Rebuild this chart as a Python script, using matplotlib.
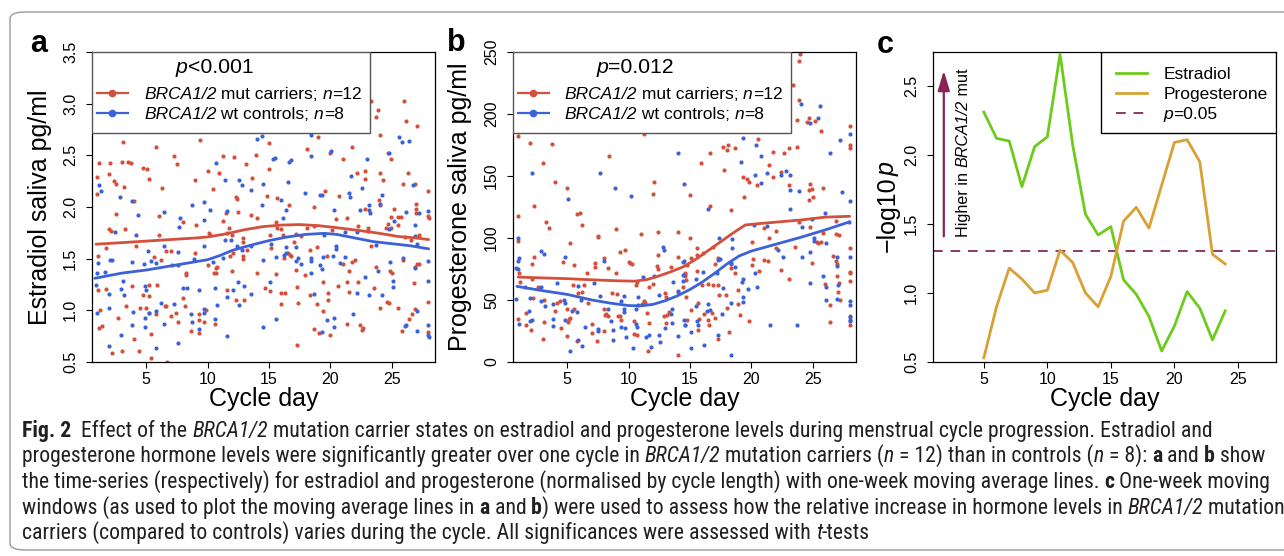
import numpy as np
import matplotlib
matplotlib.use('Agg')
import matplotlib.pyplot as plt
from matplotlib import font_manager as fm
from matplotlib.patches import Rectangle, FancyBboxPatch

W, H = 1284, 556
PANEL_FONT = ['Liberation Sans', 'DejaVu Sans']
plt.rcParams['font.family'] = PANEL_FONT

RED = '#d4503c'
BLUE = '#3b62d8'
GREEN = '#6ccb1b'
ORANGE = '#d9a033'
PLUM = '#8e3a66'

# --- panel a: estradiol (day, pg/ml) ---
a_mut = [
    (3.09, 2.63), (9.34, 2.65), (5.81, 2.58), (7.30, 2.49), (7.49, 2.42), (1.14, 2.43), (2.06, 2.43),
    (3.04, 2.44), (3.50, 2.44), (3.77, 2.43), (4.72, 2.38), (5.08, 2.37), (5.21, 2.27), (0.98, 2.29),
    (1.93, 2.32), (2.39, 2.25), (2.55, 2.22), (3.17, 2.19), (0.98, 2.13), (6.27, 2.18), (9.01, 2.26),
    (10.01, 2.35), (11.23, 2.49), (12.16, 2.48), (13.13, 2.42), (13.92, 2.50), (10.96, 2.33), (10.42, 2.17),
    (12.35, 2.10), (12.40, 2.08), (13.60, 2.28), (3.99, 2.06),
    (23.34, 3.03), (25.99, 3.03), (23.85, 2.94), (23.69, 2.87), (26.13, 2.83), (27.05, 2.78), (24.02, 2.70),
    (19.00, 2.68), (15.01, 2.62), (18.13, 2.56), (20.00, 2.52), (21.77, 2.58), (21.03, 2.46), (24.97, 2.46),
    (24.69, 2.52), (14.99, 2.37), (22.17, 2.33), (22.82, 2.35), (22.85, 2.27), (24.02, 2.33), (24.26, 2.26),
    (26.32, 2.33), (25.91, 2.22), (26.92, 2.22), (27.95, 2.15), (14.85, 2.11), (15.66, 2.09), (16.61, 2.02),
    (19.54, 2.15), (20.73, 2.11), (18.67, 2.00), (22.79, 1.98), (23.93, 2.07), (24.02, 2.02), (25.19, 1.98),
    (26.95, 2.03), (27.00, 1.98),
    (2.50, 1.93), (6.03, 1.91), (8.03, 1.85), (9.06, 1.83), (11.50, 1.94), (12.45, 1.95), (13.51, 1.92),
    (14.03, 1.89), (11.23, 1.86), (11.72, 1.80), (11.59, 1.75), (12.00, 1.73), (10.09, 1.75), (10.20, 1.73),
    (1.95, 1.79), (2.14, 1.77), (3.26, 1.79), (6.03, 1.73), (1.68, 1.60), (4.18, 1.62), (6.62, 1.57),
    (7.03, 1.57), (9.01, 1.55), (12.86, 1.66), (12.92, 1.70), (13.19, 1.58), (11.86, 1.53), (12.10, 1.55),
    (12.92, 1.53), (12.92, 1.50), (1.06, 1.53), (5.62, 1.52), (6.22, 1.49), (10.01, 1.44), (10.69, 1.41),
    (10.77, 1.42), (10.50, 1.36), (10.69, 1.36), (8.25, 1.36), (8.25, 1.34), (12.00, 1.38), (14.00, 1.36),
    (1.06, 1.20), (1.68, 1.21), (3.83, 1.24), (5.21, 1.25), (5.89, 1.25), (4.72, 1.15), (5.21, 1.14),
    (3.36, 1.04), (4.50, 1.02), (4.94, 1.02), (5.21, 0.97), (5.81, 0.96), (6.62, 1.04), (6.51, 1.04),
    (7.03, 0.95), (7.44, 0.97), (7.57, 0.89), (8.03, 1.12), (8.19, 1.04), (1.20, 1.00), (2.71, 0.93),
    (9.33, 0.96), (9.33, 0.91), (9.74, 0.89), (9.87, 1.00), (10.64, 0.87), (8.65, 0.80), (9.33, 0.78),
    (11.56, 1.20), (12.32, 1.10), (13.00, 1.10), (1.36, 0.85), (1.14, 0.83), (4.04, 0.72), (5.37, 0.77),
    (2.20, 0.59), (3.04, 0.61), (4.37, 0.61), (5.40, 0.54), (6.70, 0.50),
    (27.95, 1.91), (28.00, 1.89), (27.00, 1.94), (24.97, 1.90), (25.51, 1.90), (25.73, 1.90), (24.69, 1.84),
    (24.91, 1.80), (25.51, 1.83), (24.50, 1.80), (15.55, 1.85), (15.69, 1.80), (16.01, 1.79), (18.13, 1.80),
    (18.67, 1.82), (20.43, 1.88), (21.38, 1.89), (22.25, 1.82), (23.07, 1.80), (23.07, 1.77), (20.13, 1.78),
    (15.09, 1.73), (17.20, 1.74), (17.58, 1.72), (16.15, 1.73), (17.01, 1.66), (15.14, 1.60), (18.32, 1.58),
    (18.94, 1.61), (16.56, 1.55), (16.83, 1.53), (16.69, 1.54), (16.23, 1.51), (19.76, 1.53), (21.74, 1.47),
    (21.97, 1.49), (21.03, 1.45), (23.34, 1.62), (23.69, 1.42), (24.88, 1.38), (25.00, 1.36), (25.92, 1.49),
    (27.05, 1.45), (27.19, 1.45), (26.87, 1.42), (26.10, 1.71), (26.57, 1.68), (27.20, 1.73), (17.20, 1.39),
    (17.90, 1.34), (15.55, 1.35), (21.52, 1.38), (19.41, 1.27), (20.62, 1.24), (21.38, 1.27), (22.25, 1.27),
    (23.53, 1.22), (21.52, 1.18), (19.78, 1.17), (18.32, 1.15), (14.71, 1.22), (15.06, 1.19), (16.01, 1.17),
    (16.34, 1.17), (17.25, 1.23), (19.84, 1.10), (17.39, 1.07), (16.01, 1.06), (18.94, 1.06), (19.41, 0.99),
    (24.64, 1.08), (24.77, 1.07), (24.02, 1.02), (25.51, 1.02), (26.81, 1.26), (27.95, 1.08), (26.65, 0.96),
    (26.38, 0.92), (25.84, 0.80), (27.95, 0.79), (21.35, 0.87), (22.41, 0.86), (22.65, 0.83), (22.60, 0.81),
    (18.67, 0.82), (19.05, 0.78), (20.00, 0.76), (17.25, 0.66), (26.92, 1.01),
]
a_wt = [
    (1.11, 2.21), (1.33, 2.15), (2.90, 2.10), (3.85, 2.06), (10.69, 2.43), (11.45, 2.26), (12.59, 2.26),
    (12.78, 2.21), (13.54, 2.16), (14.03, 2.66), (14.46, 2.69), (14.49, 2.22), (9.74, 2.05), (8.74, 2.02),
    (18.40, 2.70), (20.04, 2.54), (18.40, 2.49), (15.33, 2.46), (15.47, 2.47), (16.61, 2.44), (16.83, 2.45),
    (22.96, 2.46), (25.59, 2.68), (25.84, 2.63), (26.41, 2.64), (24.77, 2.52), (21.66, 2.30), (16.58, 2.24),
    (17.89, 2.14), (19.16, 2.12), (19.30, 2.12), (21.52, 2.14), (21.62, 2.10), (22.60, 2.18), (24.18, 2.12),
    (24.08, 2.03), (23.16, 2.02), (26.76, 2.21), (16.01, 2.07), (14.46, 2.02),
    (4.31, 1.92), (6.41, 1.95), (7.71, 1.89), (7.65, 1.81), (9.68, 1.87), (10.20, 1.97), (11.59, 1.96),
    (2.44, 1.76), (4.18, 1.73), (6.48, 1.62), (5.13, 1.57), (7.57, 1.56), (9.69, 1.62), (11.45, 1.68),
    (11.92, 1.68), (12.40, 1.62), (12.78, 1.58), (13.57, 1.62), (5.40, 1.48), (5.81, 1.46), (4.80, 1.45),
    (3.85, 1.47), (2.06, 1.49), (2.23, 1.49), (1.06, 1.46), (0.98, 1.36), (1.66, 1.37), (0.87, 1.25),
    (3.09, 1.28), (3.20, 1.15), (2.96, 1.21), (1.95, 1.16), (4.86, 1.24), (5.00, 1.20), (7.11, 1.44),
    (7.57, 1.44), (8.85, 1.50), (10.42, 1.47), (11.23, 1.51), (8.00, 1.22), (8.30, 1.22), (9.33, 1.20),
    (10.64, 1.22), (12.05, 1.20), (11.59, 1.13), (12.54, 1.05), (12.95, 1.24), (13.54, 1.16), (12.46, 1.27),
    (10.80, 1.05), (2.00, 1.02), (0.98, 0.97), (3.90, 0.98), (4.86, 0.93), (5.21, 0.97), (5.81, 0.99),
    (6.22, 1.07), (7.30, 1.06), (6.48, 0.87), (3.85, 0.86), (4.86, 0.84), (2.93, 0.76), (8.65, 0.96),
    (8.71, 0.89), (9.74, 0.97), (9.71, 1.01), (9.33, 0.82), (10.64, 0.92), (7.57, 0.68), (5.81, 0.64),
    (1.95, 0.65), (11.59, 0.75),
    (20.32, 1.97), (22.44, 1.97), (23.16, 1.97), (23.21, 1.94), (16.42, 1.97), (26.13, 1.95), (27.22, 1.94),
    (27.95, 1.96), (16.15, 1.89), (25.16, 1.86), (24.79, 1.79), (26.92, 1.83), (19.46, 1.73), (21.22, 1.76),
    (22.17, 1.76), (15.14, 1.64), (16.42, 1.61), (17.20, 1.61), (16.42, 1.55), (16.23, 1.54), (20.49, 1.62),
    (20.43, 1.59), (23.69, 1.63), (26.89, 1.72), (27.05, 1.64), (15.60, 1.52), (14.52, 1.49), (17.39, 1.51),
    (17.20, 1.48), (17.64, 1.45), (18.40, 1.51), (18.40, 1.48), (19.41, 1.52), (20.24, 1.53), (21.21, 1.52),
    (20.76, 1.46), (19.13, 1.44), (19.32, 1.40), (18.40, 1.36), (24.88, 1.47), (25.92, 1.51), (26.92, 1.41),
    (27.95, 1.48), (22.85, 1.32), (23.85, 1.38), (25.11, 1.28), (25.11, 1.23), (15.11, 1.27), (22.20, 1.17),
    (23.16, 1.15), (24.18, 1.15), (18.67, 1.16), (27.95, 1.28), (21.80, 0.96), (20.32, 0.93), (19.73, 0.91),
    (20.32, 0.84), (15.60, 0.92), (14.52, 0.84), (19.30, 0.79), (26.13, 0.86), (26.10, 0.85), (27.05, 0.80),
    (27.05, 0.99), (27.95, 0.86), (27.95, 0.76), (28.00, 0.74),
]
# one-week moving averages
a_mut_avg = [(0.9, 1.64), (3, 1.655), (5, 1.67), (7, 1.685), (9, 1.70), (10, 1.71), (11.5, 1.74), (13, 1.78),
             (14.5, 1.81), (16, 1.825), (17.5, 1.83), (19, 1.82), (20.5, 1.80), (22.5, 1.77), (24, 1.745),
             (25.5, 1.715), (27, 1.70), (28, 1.685)]
a_wt_avg = [(0.8, 1.31), (3, 1.36), (5, 1.39), (7, 1.43), (8.5, 1.46), (10, 1.49), (11, 1.53), (12, 1.58),
            (13.5, 1.63), (15, 1.675), (16.5, 1.71), (18, 1.735), (19.5, 1.745), (20.5, 1.735), (22, 1.70),
            (23.5, 1.665), (25, 1.645), (26.5, 1.625), (28, 1.595)]

# --- panel b: progesterone (day, pg/ml) ---
b_mut = [
    (0.95, 182.4), (1.98, 176.8), (3.72, 175.5), (2.99, 160.7), (8.37, 166.1), (11.23, 183.5), (4.00, 145.4),
    (4.97, 140.0), (12.10, 145.4), (12.02, 135.2), (2.31, 126.1),
    (23.99, 248.1), (23.86, 242.8), (23.37, 223.7), (23.86, 211.1), (23.70, 195.0), (24.52, 193.7),
    (24.73, 196.9), (25.19, 194.2), (25.68, 186.4), (28.05, 190.4), (28.05, 174.9), (28.05, 172.7),
    (20.51, 180.2), (18.11, 175.4), (17.65, 173.0), (17.98, 170.8), (18.66, 172.7), (16.62, 168.2),
    (15.89, 160.1), (21.79, 169.5), (22.69, 168.2), (23.10, 172.7), (23.70, 173.5), (21.44, 158.8),
    (17.76, 154.5), (22.40, 153.2), (21.75, 149.1), (19.34, 149.1), (19.61, 147.8), (19.83, 144.8),
    (20.48, 142.9), (23.05, 142.4), (24.78, 143.2), (24.92, 139.7), (24.73, 138.4), (25.87, 140.2),
    (25.00, 133.0), (24.67, 130.3), (19.40, 133.0), (14.99, 134.3), (16.62, 125.7), (18.33, 122.8),
    (1.00, 118.0), (5.79, 119.1), (6.03, 120.4), (3.23, 113.2), (3.50, 107.8), (6.20, 110.5), (9.00, 107.3),
    (7.48, 101.9), (7.53, 101.1), (1.00, 97.6), (5.19, 95.7), (9.33, 89.0), (9.71, 90.4), (11.01, 103.5),
    (12.37, 105.1), (14.01, 105.1), (12.43, 86.3), (14.01, 85.0), (2.25, 85.0), (2.09, 78.8), (5.57, 78.3),
    (4.65, 80.4), (7.26, 79.6), (7.26, 76.9), (7.97, 83.6), (8.29, 75.6), (10.06, 80.4), (10.14, 79.6),
    (10.25, 78.8), (9.00, 71.6), (12.32, 77.8), (12.43, 74.8), (13.46, 76.4), (6.61, 71.6), (1.08, 71.6),
    (1.16, 64.9), (2.09, 67.0), (2.63, 60.8), (5.44, 61.7), (6.39, 61.7), (6.17, 56.8), (5.84, 55.5),
    (8.62, 56.0), (9.03, 54.7), (10.61, 61.7), (10.69, 64.3), (11.64, 60.8), (11.97, 62.6), (12.97, 55.5),
    (13.06, 52.8), (14.55, 70.8), (14.69, 66.2), (14.01, 56.8), (2.17, 52.0), (3.12, 50.1), (4.16, 47.4),
    (4.43, 48.8), (4.02, 41.0), (4.95, 42.9), (5.57, 43.1), (6.72, 47.4), (7.97, 42.9), (8.16, 38.6),
    (8.29, 37.3), (9.11, 36.8), (9.33, 36.8), (9.38, 34.1), (11.23, 49.3), (11.37, 47.9), (11.10, 46.6),
    (11.48, 39.4), (12.92, 36.8), (13.14, 38.1), (13.27, 40.2), (13.06, 31.5), (11.64, 31.5), (10.42, 33.4),
    (1.63, 39.2), (1.00, 34.4), (1.63, 29.7), (2.03, 25.7), (3.12, 32.2), (4.48, 27.6), (5.03, 32.4),
    (5.17, 34.4), (5.25, 35.7), (4.95, 21.2), (5.79, 17.2), (6.99, 31.0), (6.99, 23.5), (7.39, 16.6),
    (7.97, 24.6), (8.10, 38.1), (10.42, 22.7), (10.69, 21.6), (11.56, 9.1), (14.01, 5.4), (2.99, 18.8),
    (14.99, 99.8), (15.59, 91.7), (15.54, 86.4), (16.07, 88.3), (16.84, 92.5), (14.77, 78.0), (15.04, 83.6),
    (14.58, 71.6), (14.58, 69.0), (14.44, 60.8), (14.71, 52.8), (15.54, 73.0), (16.00, 62.2), (16.48, 62.7),
    (16.84, 62.2), (17.25, 61.7), (17.03, 79.4), (17.30, 83.6), (18.34, 75.6), (18.66, 72.0), (18.31, 78.8),
    (18.93, 58.1), (17.36, 54.0), (17.93, 54.0), (15.67, 47.4), (15.07, 42.1), (16.13, 38.6), (16.81, 39.4),
    (17.03, 35.4), (16.48, 34.1), (15.75, 34.6), (15.64, 25.5), (14.79, 34.1), (14.58, 29.7), (16.57, 29.7),
    (17.30, 18.9), (18.14, 24.3), (17.98, 43.9), (18.93, 46.6), (19.07, 37.8), (19.78, 33.3), (20.02, 97.1),
    (21.03, 108.4), (21.44, 100.4), (22.00, 105.8), (21.06, 82.4), (21.39, 81.6), (20.16, 83.2),
    (20.02, 78.4), (20.64, 73.0), (22.42, 74.3), (23.10, 66.8), (23.55, 93.0), (22.00, 91.7), (23.91, 113.2),
    (24.78, 109.2), (25.87, 103.8), (25.65, 96.6), (25.32, 96.6), (25.46, 95.7), (24.97, 79.7),
    (26.90, 113.7), (26.90, 103.3), (27.17, 102.5), (26.66, 85.8), (26.90, 81.3), (26.96, 79.4),
    (26.96, 69.5), (27.10, 64.1), (27.02, 56.3), (27.23, 50.1), (26.37, 45.6), (26.01, 62.8), (28.05, 72.9),
    (28.05, 71.6), (28.05, 65.4), (28.05, 91.7), (28.05, 36.8), (28.05, 29.6), (26.37, 32.2),
]
b_wt = [
    (2.09, 152.2), (7.67, 152.7), (8.92, 140.6), (5.08, 131.5), (10.20, 133.9), (14.01, 168.8), (14.47, 143.3),
    (24.02, 208.4), (25.60, 206.3), (25.46, 197.1), (24.80, 193.1), (19.34, 180.7), (20.38, 175.4),
    (20.76, 166.0), (19.12, 161.5), (27.22, 179.4), (28.02, 183.7), (26.42, 168.8), (20.30, 150.5),
    (21.25, 152.7), (22.42, 150.5), (22.83, 154.0), (23.18, 150.5), (20.81, 144.3), (23.15, 139.0),
    (23.89, 137.6), (27.41, 136.8), (28.02, 129.8), (16.48, 123.0), (23.15, 123.0),
    (1.00, 99.8), (1.08, 83.6), (0.95, 81.5), (0.81, 76.1), (1.00, 74.8), (2.90, 89.8), (3.12, 86.9),
    (4.81, 85.0), (8.02, 81.5), (12.78, 93.1), (12.86, 90.4), (14.39, 81.0), (12.05, 69.7), (11.21, 68.9),
    (13.60, 64.9), (14.01, 57.6), (1.57, 60.8), (2.85, 60.3), (4.16, 64.1), (5.84, 61.4), (7.20, 63.5),
    (7.69, 53.6), (9.65, 53.6), (10.74, 52.8), (12.51, 54.2), (0.86, 50.7), (1.96, 51.5), (2.90, 48.8),
    (3.20, 45.3), (3.80, 46.9), (4.75, 50.1), (4.81, 47.4), (6.12, 50.1), (8.29, 43.1), (9.38, 48.8),
    (9.65, 42.9), (9.65, 40.5), (10.61, 42.4), (10.74, 45.8), (13.54, 42.4), (13.46, 38.4), (1.05, 30.5),
    (1.98, 32.7), (2.12, 34.1), (1.90, 41.3), (3.86, 34.9), (3.86, 28.8), (4.81, 33.8), (5.38, 41.1),
    (5.79, 40.5), (6.47, 28.0), (7.53, 26.6), (7.53, 24.9), (8.70, 25.7), (8.56, 33.2), (9.38, 28.3),
    (9.71, 27.8), (9.79, 20.3), (10.66, 28.3), (10.61, 30.5), (11.42, 19.8), (11.64, 21.6), (12.51, 21.6),
    (12.97, 27.8), (12.59, 16.4), (11.83, 12.1), (10.33, 11.1), (8.70, 17.9), (6.20, 13.3), (5.84, 17.9),
    (5.22, 8.5), (14.01, 21.1), (14.50, 34.1), (13.54, 31.5),
    (24.92, 115.4), (24.16, 108.7), (25.96, 119.9), (27.97, 112.6), (20.21, 110.5), (21.24, 109.7),
    (17.38, 99.8), (18.39, 99.3), (18.44, 91.7), (17.43, 83.2), (17.30, 82.4), (18.31, 79.7), (18.66, 77.0),
    (14.50, 81.5), (14.44, 70.3), (14.44, 65.0), (15.51, 67.0), (16.02, 72.4), (17.17, 71.6), (17.66, 59.5),
    (19.21, 64.9), (19.34, 67.0), (19.34, 52.8), (19.34, 48.3), (19.75, 59.0), (20.29, 72.1), (20.48, 60.3),
    (22.20, 90.4), (22.61, 84.5), (24.16, 85.0), (24.78, 89.0), (25.11, 99.8), (25.11, 97.6), (26.10, 95.7),
    (26.96, 85.0), (27.01, 77.8), (28.00, 84.5), (25.87, 69.0), (26.10, 60.3), (24.78, 63.5), (27.03, 62.2),
    (26.96, 51.0), (26.10, 49.6), (28.05, 48.8), (28.05, 46.1), (28.05, 36.0), (28.05, 34.1), (28.05, 32.7),
    (18.31, 47.2), (16.43, 46.6), (16.62, 41.7), (16.35, 41.1), (15.50, 44.8), (17.63, 38.6), (15.59, 33.3),
    (14.58, 29.6), (15.64, 29.6), (15.07, 24.0), (17.28, 22.1), (15.07, 10.9), (16.16, 14.1), (18.34, 5.6),
    (21.52, 30.0), (23.70, 29.6),
]
b_mut_avg = [(1, 68.5), (3, 67.8), (5, 67.2), (7, 66.3), (9, 65.5), (10.5, 65.2), (11.5, 66.5), (12.5, 69.5),
             (13.5, 73), (14.5, 77), (15.5, 83), (16.5, 90), (17.5, 97), (18.5, 104), (19.5, 110.5),
             (20.5, 111.5), (22, 112.8), (24, 114.5), (26, 116.8), (28, 117.5)]
b_wt_avg = [(0.9, 61), (3, 57.5), (5, 54.5), (7, 50), (8.5, 47.5), (10, 45.5), (11, 45.3), (12, 46.5),
            (13, 49.5), (14, 53.5), (15, 58.5), (16, 64.5), (17, 71.5), (18, 79), (19, 85.5), (20, 89.5),
            (22, 95), (24, 100.5), (26, 106.5), (28, 113)]

# --- panel c: -log10 p of one-week windows ---
days_c = [5, 6, 7, 8, 9, 10, 11, 12, 13, 14, 15, 16, 17, 18, 19, 20, 21, 22, 23, 24]
estradiol_c = [2.31, 2.12, 2.10, 1.77, 2.06, 2.13, 2.73, 2.07, 1.57, 1.42, 1.48, 1.095, 0.99, 0.83, 0.58,
               0.76, 1.01, 0.89, 0.66, 0.87]
progesterone_c = [0.53, 0.90, 1.18, 1.10, 1.00, 1.02, 1.31, 1.22, 1.00, 0.90, 1.12, 1.52, 1.62, 1.47, 1.78,
                  2.09, 2.11, 1.95, 1.28, 1.21]
p_threshold = 0.05


def condensed_faces():
    # look for an installed narrow/condensed sans face for the caption
    faces = [f for f in fm.fontManager.ttflist
             if any(k in (f.name + ' ' + f.fname).lower() for k in ('narrow', 'condensed'))
             and 'mono' not in f.name.lower() and 'serif' not in f.name.lower().replace('sans', '')]
    if not faces:
        return None

    def wt(f):
        w = f.weight
        return w if isinstance(w, (int, float)) else fm.weight_dict.get(str(w).lower(), 400)

    def is_cond(f):
        s = (f.name + ' ' + f.fname).lower()
        return ('semi' not in s and 'extra' not in s and 'ultra' not in s)

    for pref in ('liberation', 'arimo', 'roboto', 'open', 'noto sans', 'lato', 'dejavu', ''):
        group = [f for f in faces if pref in f.name.lower() and is_cond(f)]
        if not group:
            continue
        reg = [f for f in group if f.style == 'normal' and 350 <= wt(f) <= 450]
        ita = [f for f in group if f.style in ('italic', 'oblique') and 350 <= wt(f) <= 450]
        bld = [f for f in group if f.style == 'normal' and wt(f) >= 600]
        if reg:
            r = reg[0].fname
            return {'': r, 'i': ita[0].fname if ita else r, 'b': bld[0].fname if bld else r}
    return None


CAPTION_FACES = condensed_faces()
CAPTION_FONT = ['Liberation Sans', 'DejaVu Sans']

fig = plt.figure(figsize=(W / 100, H / 100), dpi=100)
renderer = fig.canvas.get_renderer()


def px_axes(left, top, right, bottom):
    return fig.add_axes([left / W, 1 - bottom / H, (right - left) / W, (bottom - top) / H])


def text_width(s, **kw):
    t1 = fig.text(0, 0, '|' + s + '|', **kw)
    t2 = fig.text(0, 0, '||', **kw)
    w = t1.get_window_extent(renderer).width - t2.get_window_extent(renderer).width
    t1.remove()
    t2.remove()
    return w


def piece_kw(style, size, family, color):
    if family == 'caption' and CAPTION_FACES:
        return dict(fontproperties=fm.FontProperties(fname=CAPTION_FACES[style], size=size), color=color)
    if family == 'caption':
        family = CAPTION_FONT
    return dict(fontsize=size, family=family, color=color,
                style='italic' if 'i' in style else 'normal',
                weight='bold' if 'b' in style else 'normal')


def rich_width(pieces, size, family):
    return sum(text_width(s, **piece_kw(st, size, family, 'k')) for s, st in pieces)


def rich(x, y, pieces, size, family=PANEL_FONT, color='black', rot=0):
    # x, y in pixels from the top-left corner, y on the baseline
    for s, st in pieces:
        kw = piece_kw(st, size, family, color)
        fig.text(x / W, 1 - y / H, s, ha='left', va='baseline', rotation=rot,
                 rotation_mode='anchor', **kw)
        w = text_width(s, **kw)
        if rot == 90:
            y -= w
        else:
            x += w


def style_axes(ax, xlim, ylim, yticks, ylabels):
    ax.set_xlim(*xlim)
    ax.set_ylim(*ylim)
    ax.set_xticks([5, 10, 15, 20, 25])
    ax.set_yticks(yticks)
    ax.set_yticklabels(ylabels, rotation=90, va='center')
    ax.tick_params(direction='out', length=4, width=0.8, labelsize=11.5, colors='black')
    ax.tick_params(axis='y', pad=6)
    ax.tick_params(axis='x', pad=3)
    for s in ax.spines.values():
        s.set_linewidth(0.9)
    ax.set_xlabel('Cycle day', fontsize=18, labelpad=0)


def hormone_panel(ax, mut, wt, mut_avg, wt_avg):
    for pts, col in [(mut, RED), (wt, BLUE)]:
        arr = np.array(pts)
        ax.scatter(arr[:, 0], arr[:, 1], s=9, color=col, linewidths=0, zorder=2)
    for pts, col in [(mut_avg, RED), (wt_avg, BLUE)]:
        arr = np.array(pts)
        ax.plot(arr[:, 0], arr[:, 1], color=col, lw=2.0, zorder=3, solid_capstyle='round')
    ax.add_patch(Rectangle((0, 0.739), 0.81, 0.261, transform=ax.transAxes, facecolor='white',
                           edgecolor='#555555', lw=1.0, zorder=5))
    for yy, col in [(0.869, RED), (0.804, BLUE)]:
        ax.plot([0.0136, 0.106], [yy, yy], color=col, lw=1.6, transform=ax.transAxes, zorder=6)
        ax.plot([0.059], [yy], 'o', color=col, ms=4.5, transform=ax.transAxes, zorder=6)


def legend_text(x, title, title_cx):
    tp = [('p', 'i'), (title, '')]
    rich(title_cx - rich_width(tp, 15.3, PANEL_FONT) / 2, 72.7, tp, 15.3)
    rich(x, 99, [('BRCA1/2', 'i'), (' mut carriers; ', ''), ('n', 'i'), ('=12', '')], 12.5)
    rich(x, 119.3, [('BRCA1/2', 'i'), (' wt controls; ', ''), ('n', 'i'), ('=8', '')], 12.5)


# panel a
ax_a = px_axes(92, 52, 435, 362)
hormone_panel(ax_a, a_mut, a_wt, a_mut_avg, a_wt_avg)
style_axes(ax_a, (0.58, 28.52), (0.5, 3.5), [0.5, 1.0, 1.5, 2.0, 2.5, 3.0, 3.5],
           ['0.5', '1.0', '1.5', '2.0', '2.5', '3.0', '3.5'])
ax_a.set_ylabel('Estradiol saliva pg/ml', fontsize=18, labelpad=8)
legend_text(144, '<0.001', 214.5)

# panel b
ax_b = px_axes(513, 52, 856, 362)
hormone_panel(ax_b, b_mut, b_wt, b_mut_avg, b_wt_avg)
style_axes(ax_b, (0.58, 28.52), (0, 250), [0, 50, 100, 150, 200, 250],
           ['0', '50', '100', '150', '200', '250'])
ax_b.set_ylabel('Progesterone saliva pg/ml', fontsize=18, labelpad=9)
legend_text(564.3, '=0.012', 635)

# panel c
ax_c = px_axes(933, 52, 1276, 362)
ax_c.plot(days_c, estradiol_c, color=GREEN, lw=2.0, zorder=3)
ax_c.plot(days_c, progesterone_c, color=ORANGE, lw=2.0, zorder=3)
ax_c.axhline(-np.log10(p_threshold), color=PLUM, lw=1.4, ls=(0, (5, 4)), zorder=2)
style_axes(ax_c, (1, 28), (0.5, 2.745), [0.5, 1.0, 1.5, 2.0, 2.5], ['0.5', '1.0', '1.5', '2.0', '2.5'])
ax_c.annotate('', xy=(1.85, 2.61), xytext=(1.85, 1.41),
              arrowprops=dict(arrowstyle='-|>,head_length=1.2,head_width=0.36', color='#8b2257',
                              lw=1.6, mutation_scale=10, shrinkA=0, shrinkB=0))
ax_c.add_patch(Rectangle((0.49, 0.739), 0.51, 0.261, transform=ax_c.transAxes, facecolor='white',
                         edgecolor='black', lw=1.0, zorder=5))
for yy, col, ls in [(0.933, GREEN, '-'), (0.869, ORANGE, '-'), (0.804, PLUM, (0, (5, 4)))]:
    ax_c.plot([0.534, 0.625], [yy, yy], color=col, lw=2.0 if ls == '-' else 1.4, ls=ls,
              transform=ax_c.transAxes, zorder=6)
rich(1163.3, 79.3, [('Estradiol', '')], 12.5)
rich(1163.3, 99.3, [('Progesterone', '')], 12.5)
rich(1163.3, 119.3, [('p', 'i'), ('=0.05', '')], 12.5)
rich(968, 236.7, [('Higher in ', ''), ('BRCA1/2', 'i'), (' mut', '')], 11.6, rot=90)
yl = [('\u2212log10', ''), ('p', 'i')]
rich(895, 207 + rich_width(yl, 18, PANEL_FONT) / 2, yl, 18, rot=90)

# panel letters
for letter, x, y in [('a', 30, 51.7), ('b', 446.7, 50.7), ('c', 876.7, 53)]:
    rich(x, y, [(letter, 'b')], 22)

# caption
cap_lines = [
    [('Fig. 2', 'b'), ('  Effect of the ', ''), ('BRCA1/2', 'i'),
     (' mutation carrier states on estradiol and progesterone levels during menstrual cycle progression. '
      'Estradiol and', '')],
    [('progesterone hormone levels were significantly greater over one cycle in ', ''), ('BRCA1/2', 'i'),
     (' mutation carriers (', ''), ('n', 'i'), (' = 12) than in controls (', ''), ('n', 'i'), (' = 8): ', ''),
     ('a', 'b'), (' and ', ''), ('b', 'b'), (' show', '')],
    [('the time-series (respectively) for estradiol and progesterone (normalised by cycle length) with '
      'one-week moving average lines. ', ''), ('c', 'b'), (' One-week moving', '')],
    [('windows (as used to plot the moving average lines in ', ''), ('a', 'b'), (' and ', ''), ('b', 'b'),
     (') were used to assess how the relative increase in hormone levels in ', ''), ('BRCA1/2', 'i'),
     (' mutation', '')],
    [('carriers (compared to controls) varies during the cycle. All significances were assessed with ', ''),
     ('t', 'i'), ('-tests', '')],
]
cap_targets = [1190, 1277, 1276, 1276, 745]
cap_size = min(10 * (t - 22) / rich_width(line, 10, 'caption') for line, t in zip(cap_lines[1:4], cap_targets[1:4]))
for line, y in zip(cap_lines, [437, 462, 488, 514, 539]):
    rich(22, y, line, cap_size, family='caption', color='#231f20')

# rounded frame around the figure
fig.patches.append(FancyBboxPatch((10 / W, 1 - 550 / H), 1300 / W, 538 / H,
                                  boxstyle='round,pad=0,rounding_size=0.012', transform=fig.transFigure,
                                  facecolor='none', edgecolor='#9a9a9a', lw=1.0))

fig.savefig('out.png', dpi=100)
